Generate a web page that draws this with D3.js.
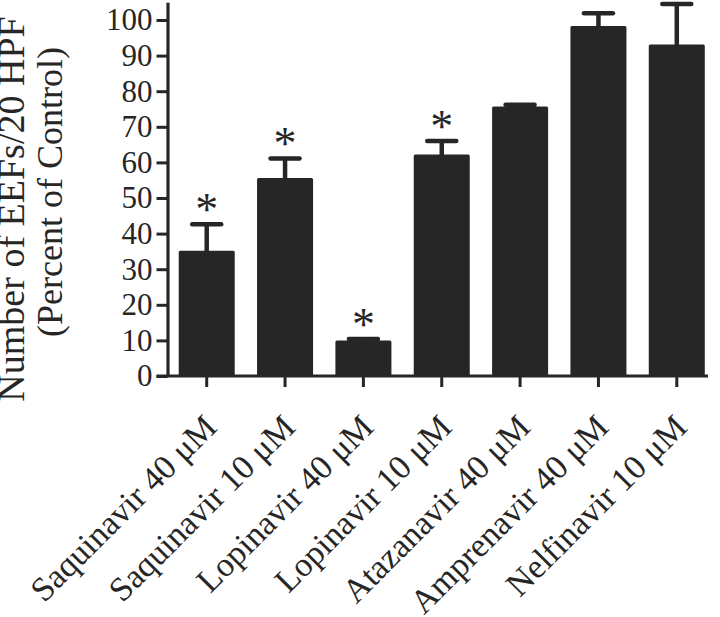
<!DOCTYPE html>
<html>
<head>
<meta charset="utf-8">
<script src="https://cdn.jsdelivr.net/npm/d3@7"></script>
<style>
  body { margin: 0; background: #fff; }
  text { font-family: "Liberation Serif", "Times New Roman", serif; fill: #262626; }
</style>
</head>
<body>
<script>
var categories = ["Saquinavir 40 \u03bcM", "Saquinavir 10 \u03bcM", "Lopinavir 40 \u03bcM", "Lopinavir 10 \u03bcM",
                  "Atazanavir 40 \u03bcM", "Amprenavir 40 \u03bcM", "Nelfinavir 10 \u03bcM"];
var values = [35.2, 55.6, 10.0, 62.2, 75.7, 98.3, 93.1];
var errors = [7.4, 5.5, 0.4, 3.8, 0.5, 3.6, 11.4];
var significant = [true, true, true, true, false, false, false];
var yTicks = [0, 10, 20, 30, 40, 50, 60, 70, 80, 90, 100];

var W = 720, H = 617;
var ink = "#262626";
var plotLeft = 167.5, plotBottom = 376, plotTop = 2.2, plotRight = 716;

var svg = d3.select("body").append("svg")
    .attr("width", W)
    .attr("height", H);

var x = d3.scaleBand()
    .domain(categories)
    .range([plotLeft, plotRight])
    .paddingInner(0.285)
    .paddingOuter(0.143);

var y = d3.scaleLinear()
    .domain([0, 105])
    .range([plotBottom, plotTop]);

var data = categories.map(function(c, i) {
  return {name: c, v: values[i], e: errors[i], sig: significant[i]};
});

// bars
svg.selectAll(".bar")
    .data(data)
  .enter().append("rect")
    .attr("class", "bar")
    .attr("x", function(d) { return x(d.name); })
    .attr("y", function(d) { return y(d.v); })
    .attr("width", x.bandwidth())
    .attr("height", function(d) { return y(0) - y(d.v); })
    .attr("rx", 1.5)
    .style("fill", ink);

// upper error bars
var capW = 29;
svg.selectAll(".err")
    .data(data)
  .enter().append("line")
    .attr("x1", function(d) { return x(d.name) + x.bandwidth() / 2; })
    .attr("x2", function(d) { return x(d.name) + x.bandwidth() / 2; })
    .attr("y1", function(d) { return y(d.v) + 1; })
    .attr("y2", function(d) { return y(d.v + d.e); })
    .style("stroke", ink)
    .style("stroke-width", 4.5);

svg.selectAll(".cap")
    .data(data)
  .enter().append("line")
    .attr("x1", function(d) { return x(d.name) + x.bandwidth() / 2 - capW / 2; })
    .attr("x2", function(d) { return x(d.name) + x.bandwidth() / 2 + capW / 2; })
    .attr("y1", function(d) { return y(d.v + d.e); })
    .attr("y2", function(d) { return y(d.v + d.e); })
    .style("stroke", ink)
    .style("stroke-width", 4.5)
    .style("stroke-linecap", "round");

// significance stars
svg.selectAll(".star")
    .data(data.filter(function(d) { return d.sig; }))
  .enter().append("text")
    .attr("x", function(d) { return x(d.name) + x.bandwidth() / 2; })
    .attr("y", function(d) { return y(d.v + d.e) + 1; })
    .attr("text-anchor", "middle")
    .style("font-size", "46px")
    .text("*");

// y axis
var yAxis = svg.append("g")
    .attr("transform", "translate(" + plotLeft + ",0)")
    .call(d3.axisLeft(y).tickValues(yTicks).tickSize(11).tickSizeOuter(0).tickPadding(4));
yAxis.select(".domain").style("stroke", ink).style("stroke-width", 3.2);
yAxis.selectAll(".tick line").style("stroke", ink).style("stroke-width", 3);
yAxis.selectAll(".tick text")
    .style("font-size", "31px")
    .style("font-family", "Liberation Serif")
    .attr("fill", ink);

// x axis
var xAxis = svg.append("g")
    .attr("transform", "translate(0," + plotBottom + ")")
    .call(d3.axisBottom(x).tickSize(11).tickSizeOuter(0));
xAxis.select(".domain").remove();
xAxis.append("line")
    .attr("x1", plotLeft - 11)
    .attr("x2", plotRight - 8)
    .style("stroke", ink)
    .style("stroke-width", 3.2);
xAxis.selectAll(".tick line").style("stroke", ink).style("stroke-width", 3);
xAxis.selectAll(".tick text")
    .style("font-size", "34px")
    .style("font-family", "Liberation Serif")
    .attr("fill", ink)
    .attr("text-anchor", "end")
    .attr("dy", "0")
    .attr("y", 0)
    .attr("transform", "translate(12,53) rotate(-45)");

// y title
var title = svg.append("text")
    .attr("transform", "translate(0," + 209 + ") rotate(-90)")
    .attr("text-anchor", "middle")
    .style("font-size", "38px");
title.append("tspan").attr("x", 0).attr("y", 24).text("Number of EEFs/20 HPF");
title.append("tspan").attr("x", 17).attr("y", 62).style("font-size", "36px").text("(Percent of Control)");
</script>
</body>
</html>
